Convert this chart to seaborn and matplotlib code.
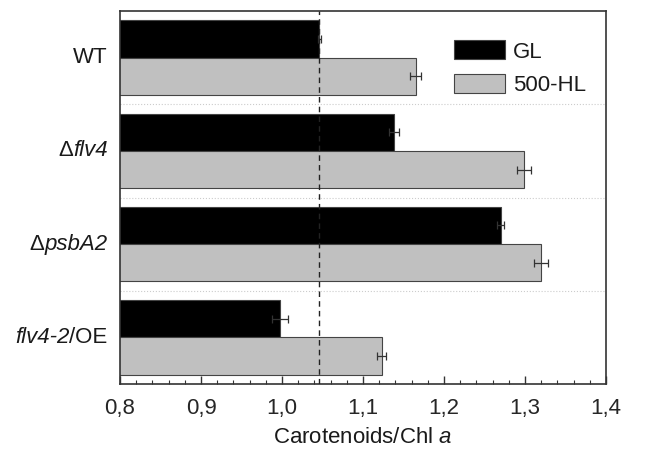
import matplotlib
matplotlib.use("Agg")
import matplotlib.pyplot as plt
import seaborn as sns
import pandas as pd
from matplotlib.ticker import MultipleLocator, FuncFormatter
from matplotlib.offsetbox import TextArea, HPacker, AnnotationBbox

strains = ["WT", "Δflv4", "ΔpsbA2", "flv4-2/OE"]
# label pieces: (text, italic?)
strain_label_parts = [
    [("WT", False)],
    [("Δ", False), ("flv4", True)],
    [("Δ", False), ("psbA2", True)],
    [("flv4-2", True), ("/OE", False)],
]
conditions = ["GL", "500-HL"]
gl_values = [1.046, 1.138, 1.270, 0.998]
hl_values = [1.165, 1.299, 1.320, 1.123]
gl_err = [0.002, 0.006, 0.004, 0.010]
hl_err = [0.007, 0.009, 0.009, 0.006]

sns.set_theme(style="white")
plt.rcParams["font.family"] = ["Liberation Sans", "DejaVu Sans"]
plt.rcParams["mathtext.fontset"] = "custom"
plt.rcParams["mathtext.rm"] = "Liberation Sans"
plt.rcParams["mathtext.it"] = "Liberation Sans:italic"

FS = 16

df = pd.DataFrame({
    "strain": strains * 2,
    "cond": [conditions[0]] * 4 + [conditions[1]] * 4,
    "value": gl_values + hl_values,
    "err": gl_err + hl_err,
})

fig = plt.figure(figsize=(6.47, 4.53), dpi=100)
ax = fig.add_axes([120 / 647, 1 - 384 / 453, (606 - 120) / 647, (384 - 11) / 453])

sns.barplot(data=df, y="strain", x="value", hue="cond", orient="h",
            palette={"GL": "black", "500-HL": "#c0c0c0"}, width=0.8,
            edgecolor="#444444", linewidth=0.8, errorbar=None, ax=ax, zorder=2)

# error bars
for cont, errs, vals in zip(ax.containers, [gl_err, hl_err], [gl_values, hl_values]):
    ys = [p.get_y() + p.get_height() / 2 for p in cont.patches]
    ax.errorbar(vals, ys, xerr=errs, fmt="none", ecolor="#333333",
                elinewidth=0.9, capsize=3, capthick=0.9, zorder=3)

ax.set_xlim(0.8, 1.4)
ax.set_ylim(3.5, -0.5)
ax.axvline(gl_values[0], color="#222222", linestyle=(0, (4, 3)), linewidth=1, zorder=4)
for yy in [0.5, 1.5, 2.5]:
    ax.axhline(yy, color="#cccccc", linestyle=":", linewidth=0.8, zorder=1)

ax.xaxis.set_major_locator(MultipleLocator(0.1))
ax.xaxis.set_minor_locator(MultipleLocator(0.02))
ax.xaxis.set_major_formatter(FuncFormatter(lambda v, p: f"{v:.1f}".replace(".", ",")))
ax.tick_params(axis="x", which="major", direction="in", length=6, width=1,
               color="#333333", bottom=True, top=False, labelsize=FS, pad=10)
ax.tick_params(axis="x", which="minor", direction="in", length=3, width=0.8,
               color="#333333", bottom=True, top=False)
ax.tick_params(axis="y", left=False, labelleft=False)
for s in ax.spines.values():
    s.set_color("#333333")
    s.set_linewidth(1.2)
    s.set_visible(True)

# y tick labels with mixed italic
for i, parts in enumerate(strain_label_parts):
    areas = [TextArea(t, textprops=dict(fontsize=FS, color="#1a1a1a",
                                        fontstyle="italic" if it else "normal"))
             for t, it in parts]
    box = HPacker(children=areas, align="baseline", pad=0, sep=0)
    ab = AnnotationBbox(box, (0, i), xycoords=("axes fraction", "data"),
                        xybox=(-9, 0), boxcoords="offset points",
                        box_alignment=(1, 0.5), frameon=False, pad=0)
    ax.add_artist(ab)

ax.set_ylabel("")
ax.set_xlabel(r"Carotenoids/Chl $\mathit{a}$", fontsize=FS, labelpad=5.5, color="#1a1a1a")

leg = ax.legend(loc="upper right", frameon=False, fontsize=FS,
                bbox_to_anchor=(1.0, 0.975), handlelength=2.3, handleheight=0.95,
                handletextpad=0.35, labelspacing=0.5)
for t in leg.get_texts():
    t.set_color("#1a1a1a")

fig.savefig("out.png", dpi=100)
